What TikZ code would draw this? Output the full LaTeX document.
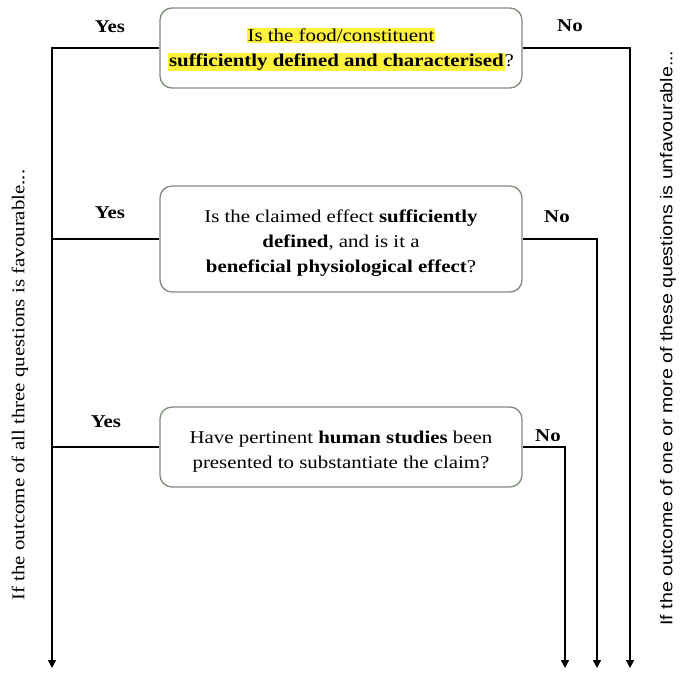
\documentclass[tikz,border=0pt]{standalone}
\usepackage{fontspec}
\setmainfont[FakeStretch=1.16]{Liberation Serif}
\newfontfamily\rsans[FakeStretch=1.15]{Liberation Sans}
\usetikzlibrary{arrows.meta}
\definecolor{hl}{HTML}{FFF23C}
\definecolor{boxline}{HTML}{7D8C7A}
\tikzset{
  qbox/.style={draw=boxline, line width=1.3pt, rounded corners=12pt, fill=white,
    minimum width=362pt, inner sep=0pt},
  qtext/.style={align=center, inner sep=0pt, font=\fontsize{18}{25}\selectfont},
  lbl/.style={font=\fontsize{18}{20}\selectfont\bfseries, inner sep=0pt},
  conn/.style={line width=1.5pt, black},
  arr/.style={conn, -{Triangle[length=8pt,width=8pt]}},
  side/.style={font=\fontsize{18}{20}\selectfont, inner sep=0pt, rotate=90}
}
\begin{document}
\begin{tikzpicture}[x=1pt,y=-1pt]
\useasboundingbox (0,0) rectangle (682,673);
\fill[white] (0,0) rectangle (682,673);
% end coordinates
\coordinate (L) at (52,668);
\coordinate (R1) at (630,668);
\coordinate (R2) at (597,668);
\coordinate (R3) at (565,668);
% boxes
\node[qbox, minimum height=80pt] (b1) at (341,48) {};
\node[qtext] (t1) at ([yshift=-1.5pt]b1.center)
  {\setlength{\fboxsep}{1pt}\colorbox{hl}{Is the food/constituent}\\
   \setlength{\fboxsep}{1pt}\colorbox{hl}{\textbf{sufficiently defined and characterised}}?};
\node[qbox, minimum height=106pt] (b2) at (341,239) {};
\node[qtext] (t2) at ([yshift=-4pt]b2.center)
  {Is the claimed effect \textbf{sufficiently}\\ \textbf{defined}, and is it a\\ \textbf{beneficial physiological effect}?};
\node[qbox, minimum height=80pt] (b3) at (341,447) {};
\node[qtext] (t3) at ([yshift=-4.5pt]b3.center)
  {Have pertinent \textbf{human studies} been\\ presented to substantiate the claim?};
% labels
\node[lbl] (y1) at (110,27) {Yes};
\node[lbl] (n1) at (570,26) {No};
\node[lbl] (y2) at (110,213) {Yes};
\node[lbl] (n2) at (557,217) {No};
\node[lbl] (y3) at (106,422) {Yes};
\node[lbl] (n3) at (548,436) {No};
% connectors
\draw[arr] (b1.west) -| (L);
\draw[conn] (b2.west) -- (b2.west -| L);
\draw[conn] (b3.west) -- (b3.west -| L);
\draw[arr] (b1.east) -| (R1);
\draw[arr] (b2.east) -| (R2);
\draw[arr] (b3.east) -| (R3);
% side texts
\node[side] (st1) at (20,385) {If the outcome of all three questions is favourable...};
\node[side, font=\rsans\fontsize{17}{20}\selectfont] (st2) at (668,338) {If the outcome of one or more of these questions is unfavourable...};
\end{tikzpicture}
\end{document}
